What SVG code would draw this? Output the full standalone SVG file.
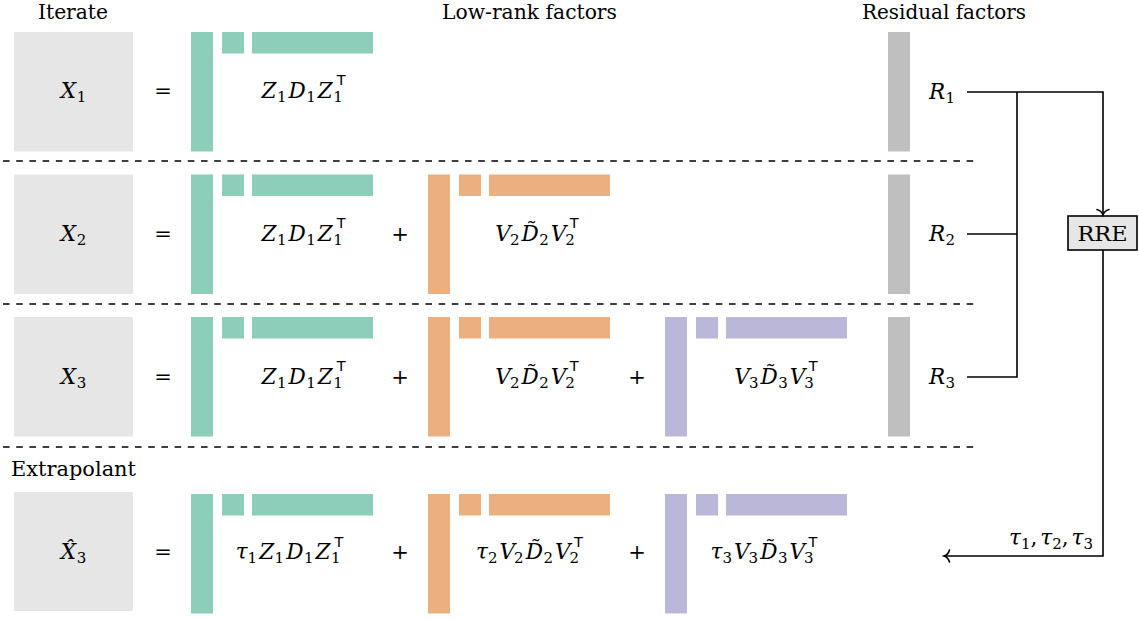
<svg xmlns="http://www.w3.org/2000/svg" xmlns:xlink="http://www.w3.org/1999/xlink" width="1139" height="619" viewBox="0 0 1139 619">
<style>
.bg{fill:#ffffff}
.iter{fill:#e6e6e6}
.res{fill:#bfbfbf}
.g{fill:#8dcebb}
.o{fill:#ecaf80}
.p{fill:#bab7d9}
.hd{font-family:'DejaVu Serif',serif;font-size:21px;fill:#000;text-anchor:middle}
.m{font-family:'DejaVu Serif',serif;font-size:21.5px;fill:#000;text-anchor:middle}
.mi{font-style:italic;font-size:21.5px}
.sb{font-style:normal;font-size:15px}
.sup{font-family:'DejaVu Sans',sans-serif;font-style:normal;font-size:14.5px}
.op{font-family:'DejaVu Serif',serif;font-size:21px;fill:#000;text-anchor:middle}
.wire{fill:none;stroke:#000;stroke-width:1.6}
.dash{fill:none;stroke:#000;stroke-width:1.4;stroke-dasharray:6.6 6.6}
.box{fill:#e6e6e6;stroke:#000;stroke-width:1.6}
</style>
<defs>
<g id="blk">
<rect x="0" y="0" width="22" height="119.5"/>
<rect x="31" y="0" width="22" height="21.5"/>
<rect x="61" y="0" width="121" height="21.5"/>
</g>
<marker id="arr" markerUnits="userSpaceOnUse" viewBox="-8 -7 10 14" markerWidth="10" markerHeight="14" refX="0" refY="0" orient="auto" overflow="visible">
<path d="M-5.5,-6 C-4.5,-2.5 -1.8,-0.6 0,0 C-1.8,0.6 -4.5,2.5 -5.5,6" fill="none" stroke="#000" stroke-width="1.6" stroke-linecap="round"/>
</marker>
</defs>
<rect class="bg" x="0" y="0" width="1139" height="619"/>

<g id="headers">
<text class="hd" x="73" y="19" textLength="70" lengthAdjust="spacingAndGlyphs">Iterate</text>
<text class="hd" x="529.5" y="19" textLength="175" lengthAdjust="spacingAndGlyphs">Low-rank factors</text>
<text class="hd" x="944" y="19" textLength="164" lengthAdjust="spacingAndGlyphs">Residual factors</text>
<text class="hd" x="73.5" y="476" textLength="125" lengthAdjust="spacingAndGlyphs">Extrapolant</text>
</g>

<g id="separators">
<line class="dash" x1="3" y1="161" x2="977" y2="161"/>
<line class="dash" x1="3" y1="304" x2="977" y2="304"/>
<line class="dash" x1="3" y1="447" x2="977" y2="447"/>
</g>

<!-- Row 1 -->
<g id="iterate-x1">
<rect class="iter" x="14" y="32" width="119" height="119.5"/>
<text class="m" x="73.5" y="97.5"><tspan class="mi">X</tspan><tspan class="sb" dx="0.5" dy="4">1</tspan></text>
</g>
<g id="eq-row1"><text class="op" x="163" y="97.5">=</text></g>
<g id="factor-z-row1">
<use xlink:href="#blk" href="#blk" class="g" x="191" y="32"/>
<text class="m" x="303.5" y="97.5"><tspan class="mi">Z</tspan><tspan class="sb" dx="0.5" dy="4">1</tspan><tspan class="mi" dx="2" dy="-4">D</tspan><tspan class="sb" dx="0.5" dy="4">1</tspan><tspan class="mi" dx="2" dy="-4">Z</tspan><tspan class="sb" dx="0.5" dy="4">1</tspan><tspan class="sup" dx="-6" dy="-16.5">T</tspan></text>
</g>
<g id="residual-r1">
<rect class="res" x="888" y="32" width="22" height="119.5"/>
<text class="m" x="942" y="99"><tspan class="mi">R</tspan><tspan class="sb" dx="0.5" dy="4">1</tspan></text>
</g>

<!-- Row 2 -->
<g id="iterate-x2">
<rect class="iter" x="14" y="174.5" width="119" height="119.5"/>
<text class="m" x="73.5" y="240.5"><tspan class="mi">X</tspan><tspan class="sb" dx="0.5" dy="4">2</tspan></text>
</g>
<g id="eq-row2"><text class="op" x="163" y="240.5">=</text></g>
<g id="factor-z-row2">
<use xlink:href="#blk" href="#blk" class="g" x="191" y="174.5"/>
<text class="m" x="303.5" y="240.5"><tspan class="mi">Z</tspan><tspan class="sb" dx="0.5" dy="4">1</tspan><tspan class="mi" dx="2" dy="-4">D</tspan><tspan class="sb" dx="0.5" dy="4">1</tspan><tspan class="mi" dx="2" dy="-4">Z</tspan><tspan class="sb" dx="0.5" dy="4">1</tspan><tspan class="sup" dx="-6" dy="-16.5">T</tspan></text>
</g>
<g id="plus-row2-a"><text class="op" x="400" y="240.5">+</text></g>
<g id="factor-v2-row2">
<use xlink:href="#blk" href="#blk" class="o" x="428" y="174.5"/>
<text class="m" x="537" y="240.5"><tspan class="mi">V</tspan><tspan class="sb" dx="-1" dy="4">2</tspan><tspan class="mi" dx="2" dy="-4">D̃</tspan><tspan class="sb" dx="0.5" dy="4">2</tspan><tspan class="mi" dx="2" dy="-4">V</tspan><tspan class="sb" dx="-1" dy="4">2</tspan><tspan class="sup" dx="-5" dy="-16.5">T</tspan></text>
</g>
<g id="residual-r2">
<rect class="res" x="888" y="174.5" width="22" height="119.5"/>
<text class="m" x="942" y="241"><tspan class="mi">R</tspan><tspan class="sb" dx="0.5" dy="4">2</tspan></text>
</g>

<!-- Row 3 -->
<g id="iterate-x3">
<rect class="iter" x="14" y="317" width="119" height="119.5"/>
<text class="m" x="73.5" y="383.5"><tspan class="mi">X</tspan><tspan class="sb" dx="0.5" dy="4">3</tspan></text>
</g>
<g id="eq-row3"><text class="op" x="163" y="383.5">=</text></g>
<g id="factor-z-row3">
<use xlink:href="#blk" href="#blk" class="g" x="191" y="317"/>
<text class="m" x="303.5" y="383.5"><tspan class="mi">Z</tspan><tspan class="sb" dx="0.5" dy="4">1</tspan><tspan class="mi" dx="2" dy="-4">D</tspan><tspan class="sb" dx="0.5" dy="4">1</tspan><tspan class="mi" dx="2" dy="-4">Z</tspan><tspan class="sb" dx="0.5" dy="4">1</tspan><tspan class="sup" dx="-6" dy="-16.5">T</tspan></text>
</g>
<g id="plus-row3-a"><text class="op" x="400" y="383.5">+</text></g>
<g id="factor-v2-row3">
<use xlink:href="#blk" href="#blk" class="o" x="428" y="317"/>
<text class="m" x="537" y="383.5"><tspan class="mi">V</tspan><tspan class="sb" dx="-1" dy="4">2</tspan><tspan class="mi" dx="2" dy="-4">D̃</tspan><tspan class="sb" dx="0.5" dy="4">2</tspan><tspan class="mi" dx="2" dy="-4">V</tspan><tspan class="sb" dx="-1" dy="4">2</tspan><tspan class="sup" dx="-5" dy="-16.5">T</tspan></text>
</g>
<g id="plus-row3-b"><text class="op" x="637" y="383.5">+</text></g>
<g id="factor-v3-row3">
<use xlink:href="#blk" href="#blk" class="p" x="665" y="317"/>
<text class="m" x="776" y="383.5"><tspan class="mi">V</tspan><tspan class="sb" dx="-1" dy="4">3</tspan><tspan class="mi" dx="2" dy="-4">D̃</tspan><tspan class="sb" dx="0.5" dy="4">3</tspan><tspan class="mi" dx="2" dy="-4">V</tspan><tspan class="sb" dx="-1" dy="4">3</tspan><tspan class="sup" dx="-5" dy="-16.5">T</tspan></text>
</g>
<g id="residual-r3">
<rect class="res" x="888" y="317" width="22" height="119.5"/>
<text class="m" x="942" y="384"><tspan class="mi">R</tspan><tspan class="sb" dx="0.5" dy="4">3</tspan></text>
</g>

<!-- Row 4: extrapolant -->
<g id="extrapolant-x3hat">
<rect class="iter" x="14" y="492" width="119" height="119"/>
<text class="m" x="73.5" y="559"><tspan class="mi">X̂</tspan><tspan class="sb" dx="0.5" dy="4">3</tspan></text>
</g>
<g id="eq-row4"><text class="op" x="163" y="559">=</text></g>
<g id="factor-z-row4">
<use xlink:href="#blk" href="#blk" class="g" x="191" y="494"/>
<text class="m" x="289.5" y="559"><tspan class="mi">τ</tspan><tspan class="sb" dx="0" dy="4">1</tspan><tspan class="mi" dx="2" dy="-4">Z</tspan><tspan class="sb" dx="0.5" dy="4">1</tspan><tspan class="mi" dx="2" dy="-4">D</tspan><tspan class="sb" dx="0.5" dy="4">1</tspan><tspan class="mi" dx="2" dy="-4">Z</tspan><tspan class="sb" dx="0.5" dy="4">1</tspan><tspan class="sup" dx="-6" dy="-16.5">T</tspan></text>
</g>
<g id="plus-row4-a"><text class="op" x="400" y="559">+</text></g>
<g id="factor-v2-row4">
<use xlink:href="#blk" href="#blk" class="o" x="428" y="494"/>
<text class="m" x="529.5" y="559"><tspan class="mi">τ</tspan><tspan class="sb" dx="0" dy="4">2</tspan><tspan class="mi" dx="2" dy="-4">V</tspan><tspan class="sb" dx="-1" dy="4">2</tspan><tspan class="mi" dx="2" dy="-4">D̃</tspan><tspan class="sb" dx="0.5" dy="4">2</tspan><tspan class="mi" dx="2" dy="-4">V</tspan><tspan class="sb" dx="-1" dy="4">2</tspan><tspan class="sup" dx="-5" dy="-16.5">T</tspan></text>
</g>
<g id="plus-row4-b"><text class="op" x="637" y="559">+</text></g>
<g id="factor-v3-row4">
<use xlink:href="#blk" href="#blk" class="p" x="665" y="494"/>
<text class="m" x="764" y="559"><tspan class="mi">τ</tspan><tspan class="sb" dx="0" dy="4">3</tspan><tspan class="mi" dx="2" dy="-4">V</tspan><tspan class="sb" dx="-1" dy="4">3</tspan><tspan class="mi" dx="2" dy="-4">D̃</tspan><tspan class="sb" dx="0.5" dy="4">3</tspan><tspan class="mi" dx="2" dy="-4">V</tspan><tspan class="sb" dx="-1" dy="4">3</tspan><tspan class="sup" dx="-5" dy="-16.5">T</tspan></text>
</g>

<g id="rre">
<rect class="box" x="1068" y="216" width="69" height="34"/>
<text class="hd" x="1102.5" y="240.5" textLength="50" lengthAdjust="spacingAndGlyphs">RRE</text>
</g>

<g id="connectors">
<path class="wire" d="M967,92 H1103 V215" marker-end="url(#arr)"/>
<path class="wire" d="M1017,92 V377 H967"/>
<path class="wire" d="M967,234 H1017"/>
<path class="wire" d="M1103,250 V556 H944" marker-end="url(#arr)"/>
<text class="m" x="1051" y="545"><tspan class="mi">τ</tspan><tspan class="sb" dy="4">1</tspan><tspan dy="-4">,</tspan><tspan class="mi" dx="3">τ</tspan><tspan class="sb" dy="4">2</tspan><tspan dy="-4">,</tspan><tspan class="mi" dx="3">τ</tspan><tspan class="sb" dy="4">3</tspan></text>
</g>
</svg>
